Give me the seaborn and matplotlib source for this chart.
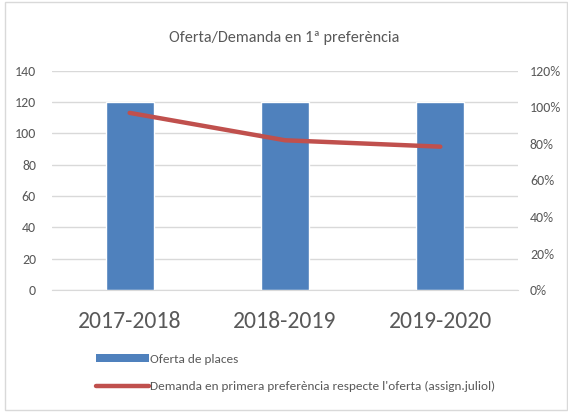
import matplotlib
matplotlib.use("Agg")
import matplotlib.pyplot as plt
import seaborn as sns
import pandas as pd
from matplotlib.patches import Patch, Rectangle
from matplotlib.lines import Line2D
from matplotlib.ticker import FuncFormatter

categories = ["2017-2018", "2018-2019", "2019-2020"]
oferta = [120, 120, 120]
demanda_pct = [97, 82, 78.5]

title = "Oferta/Demanda en 1ª preferència"
bar_label = "Oferta de places"
line_label = "Demanda en primera preferència respecte l'oferta (assign.juliol)"

df = pd.DataFrame({"curs": categories, "oferta": oferta, "demanda": demanda_pct})

sns.set_style("white")
plt.rcParams['font.family'] = ['Carlito', 'Open Sans', 'DejaVu Sans']

bar_color = "#4F81BD"
line_color = "#C0504D"
text_color = "#595959"
grid_color = "#D9D9D9"

fig = plt.figure(figsize=(5.68, 4.12), dpi=100)
ax = fig.add_axes([52 / 568, 0.296, 466 / 568, 0.532])

sns.barplot(data=df, x="curs", y="oferta", color=bar_color, width=0.31,
            saturation=1, ax=ax, zorder=2)
ax.set_xlim(-0.5, 2.5)
ax.set_ylim(0, 140)
ax.set_yticks(range(0, 141, 20))
ax.yaxis.grid(True, color=grid_color, linewidth=1, zorder=0)
ax.set_axisbelow(True)
ax.set_xlabel("")
ax.set_ylabel("")
ax.tick_params(axis="y", labelsize=10, colors=text_color, length=0, pad=11.5)
ax.tick_params(axis="x", labelsize=17, colors=text_color, length=0, pad=15)
for s in ax.spines.values():
    s.set_visible(False)
ax.spines["bottom"].set_visible(True)
ax.spines["bottom"].set_color(grid_color)

ax2 = ax.twinx()
sns.lineplot(data=df, x="curs", y="demanda", color=line_color, linewidth=3.2,
             ax=ax2, sort=False, solid_capstyle="round")
ax2.set_xlim(-0.5, 2.5)
ax2.set_ylim(0, 120)
ax2.set_yticks(range(0, 121, 20))
ax2.yaxis.set_major_formatter(FuncFormatter(lambda v, p: f"{int(v)}%"))
ax2.set_ylabel("")
ax2.set_xlabel("")
ax2.tick_params(axis="y", labelsize=10, colors=text_color, length=0, pad=8.6)
for s in ax2.spines.values():
    s.set_visible(False)
ax2.grid(False)

fig.text(0.5, 0.907, title, ha="center", va="center", fontsize=11.6, color=text_color)

handles = [Patch(facecolor=bar_color, edgecolor="none"),
           Line2D([0], [0], color=line_color, linewidth=3.2)]
leg = fig.legend(handles, [bar_label, line_label], loc="upper left",
                 bbox_to_anchor=(0.148, 0.17), frameon=False, fontsize=9.5,
                 handlelength=4.0, handleheight=0.5, labelspacing=1.2,
                 handletextpad=0.1, labelcolor=text_color)

fig.patches.append(Rectangle((0.008, 0.004), 0.99, 0.99, transform=fig.transFigure,
                             fill=False, edgecolor="#D9D9D9", linewidth=1))

fig.savefig("out.png", dpi=100)
